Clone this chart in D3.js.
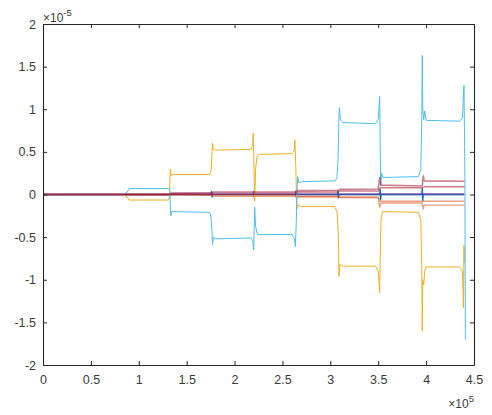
<!DOCTYPE html>
<html>
<head>
<meta charset="utf-8">
<script src="https://cdn.jsdelivr.net/npm/d3@7/dist/d3.min.js"></script>
<style>
  html, body { margin: 0; padding: 0; background: #ffffff; }
  svg { display: block; font-family: "Liberation Sans", Arial, Helvetica, sans-serif; }
</style>
</head>
<body>
<svg id="chart" width="492" height="415"></svg>
<script>
// ---- data (x in units of 1e5, y in units of 1e-5) ----
const xTicks = [0, 0.5, 1, 1.5, 2, 2.5, 3, 3.5, 4, 4.5];
const xTickLabels = ["0", "0.5", "1", "1.5", "2", "2.5", "3", "3.5", "4", "4.5"];
const yTicks = [-2, -1.5, -1, -0.5, 0, 0.5, 1, 1.5, 2];
const yTickLabels = ["-2", "-1.5", "-1", "-0.5", "0", "0.5", "1", "1.5", "2"];

const seriesBlue = [[0,0],[1.755,0],[1.76,0.035],[1.765,-0.03],[1.77,0],[2.195,0],[2.2,0.035],[2.205,-0.03],[2.21,0],
  [2.635,0],[2.64,0.04],[2.645,-0.035],[2.65,0],[3.075,0],[3.08,0.04],[3.085,-0.04],[3.09,0],
  [3.515,0],[3.52,0.06],[3.525,-0.06],[3.53,0],[3.955,0],[3.96,0.07],[3.965,-0.07],[3.97,0],[4.4,0]];

const seriesOrangeA = [[0,0],[1.32,0],[1.76,-0.01],[1.78,-0.02],[2.64,-0.02],[2.66,-0.03],[3.08,-0.03],[3.1,-0.035],
  [3.5,-0.04],[3.515,-0.15],[3.53,-0.1],[3.96,-0.1],[3.97,-0.17],[3.98,-0.125],[4.4,-0.125]];
const seriesOrangeB = [[0,0],[2.64,0],[2.66,-0.02],[3.08,-0.02],[3.1,-0.03],[3.5,-0.03],[3.52,-0.08],[3.96,-0.08],
  [3.98,-0.08],[4.4,-0.08]];

const seriesYellow = [[0,0],[0.84,0],[0.88,-0.03],[0.9,-0.065],[1.31,-0.065],[1.32,-0.02],[1.325,0.18],[1.33,0.3],
  [1.34,0.22],[1.36,0.235],[1.74,0.235],[1.755,0.28],[1.765,0.5],[1.77,0.6],[1.78,0.53],[1.8,0.52],[2.17,0.53],
  [2.19,0.58],[2.195,0.72],[2.205,0.2],[2.21,-0.08],[2.22,0.3],[2.235,0.45],[2.26,0.47],[2.6,0.48],[2.625,0.52],
  [2.63,0.64],[2.64,0.3],[2.65,-0.17],[2.665,-0.12],[2.69,-0.14],[3.04,-0.14],[3.07,-0.2],[3.085,-0.5],[3.09,-0.96],
  [3.1,-0.82],[3.13,-0.84],[3.47,-0.84],[3.5,-0.9],[3.515,-1.15],[3.525,-0.5],[3.53,-0.28],[3.545,-0.2],[3.92,-0.21],
  [3.945,-0.3],[3.955,-0.9],[3.96,-1.6],[3.965,-1.0],[3.975,-1.06],[3.985,-0.9],[4.0,-0.85],[4.35,-0.85],[4.38,-0.9],
  [4.39,-1.33],[4.395,-0.6],[4.4,-0.8]];

const seriesPurple = [[0,0],[1.32,0],[1.34,0.01],[2.64,0.01],[2.66,0.005],[4.4,0.005]];

const seriesCyan = [[0,0],[0.84,0],[0.88,0.03],[0.9,0.07],[1.31,0.07],[1.325,0.05],[1.33,-0.17],[1.335,-0.25],
  [1.345,-0.2],[1.74,-0.21],[1.755,-0.27],[1.765,-0.45],[1.77,-0.59],[1.78,-0.5],[1.8,-0.52],[2.17,-0.51],[2.19,-0.55],
  [2.2,-0.65],[2.205,-0.4],[2.21,-0.15],[2.22,-0.38],[2.24,-0.47],[2.6,-0.47],[2.625,-0.52],[2.635,-0.61],[2.645,-0.3],
  [2.655,0.12],[2.66,0.21],[2.67,0.14],[2.7,0.15],[3.05,0.16],[3.07,0.2],[3.08,0.4],[3.09,0.9],[3.095,1.02],[3.105,0.88],
  [3.13,0.845],[3.47,0.83],[3.5,0.88],[3.515,1.15],[3.52,0.7],[3.525,0.1],[3.535,0.25],[3.55,0.2],[3.92,0.21],
  [3.945,0.3],[3.955,0.9],[3.96,1.63],[3.965,1.0],[3.975,0.88],[3.985,0.98],[4.0,0.87],[4.35,0.86],[4.38,0.9],
  [4.395,1.28],[4.4,0.8],[4.405,0.2],[4.41,-1.7]];

const seriesRedA = [[0,0],[1.32,0],[1.34,0.015],[1.76,0.02],[1.78,0.03],[2.64,0.03],[2.66,0.045],[3.08,0.05],
  [3.1,0.06],[3.5,0.065],[3.515,0.2],[3.53,0.11],[3.96,0.1],[3.97,0.22],[3.98,0.16],[4.4,0.156]];
const seriesRedB = [[0,0],[2.64,0],[2.66,0.03],[3.08,0.03],[3.1,0.04],[3.5,0.04],[3.52,0.08],[3.96,0.08],
  [3.98,0.09],[4.4,0.09]];

const seriesList = [
  { data: seriesBlue,    color: "#0072BD", width: 1.4, opacity: 1 },
  { data: seriesOrangeB, color: "#D95319", width: 1.4, opacity: 0.55 },
  { data: seriesOrangeA, color: "#D95319", width: 1.4, opacity: 0.55 },
  { data: seriesYellow,  color: "#EDB120", width: 1.0, opacity: 1 },
  { data: seriesPurple,  color: "#7E2F8E", width: 2.2, opacity: 0.5 },
  { data: seriesCyan,    color: "#4DBEEE", width: 1.0, opacity: 1 },
  { data: seriesRedB,    color: "#A2142F", width: 1.5, opacity: 0.55 },
  { data: seriesRedA,    color: "#A2142F", width: 1.6, opacity: 0.55 }
];

// ---- layout ----
const svg = d3.select("#chart");
const mLeft = 43, mRight = 474, mTop = 24, mBottom = 365;
const x = d3.scaleLinear().domain([0, 4.5]).range([mLeft, mRight]);
const y = d3.scaleLinear().domain([-2, 2]).range([mBottom, mTop]);
const axisColor = "#262626";
const textColor = "#3a3a3a";
const fontSize = "12.5px";

svg.append("defs").append("clipPath").attr("id", "clip")
  .append("rect").attr("x", mLeft).attr("y", mTop).attr("width", mRight - mLeft).attr("height", mBottom - mTop);

const line = d3.line().x(d => x(d[0])).y(d => y(d[1]));
const plot = svg.append("g").attr("clip-path", "url(#clip)");
seriesList.forEach(s => {
  plot.append("path")
    .datum(s.data)
    .attr("d", line)
    .attr("fill", "none")
    .attr("stroke", s.color)
    .attr("stroke-width", s.width)
    .attr("stroke-opacity", s.opacity)
    .attr("stroke-linejoin", "round");
});

function styleAxis(g) {
  g.select(".domain").attr("stroke", axisColor).attr("stroke-width", 1.1);
  g.selectAll(".tick line").attr("stroke", axisColor);
  g.selectAll(".tick text").attr("fill", textColor).style("font-size", fontSize)
    .style("font-family", '"Liberation Sans", Arial, sans-serif');
}

svg.append("g").attr("transform", `translate(0,${mBottom})`)
  .call(d3.axisBottom(x).tickValues(xTicks).tickFormat((d, i) => xTickLabels[i])
    .tickSizeInner(-4).tickSizeOuter(0).tickPadding(10))
  .call(styleAxis);
svg.append("g").attr("transform", `translate(0,${mTop})`)
  .call(d3.axisTop(x).tickValues(xTicks).tickFormat("").tickSizeInner(-4).tickSizeOuter(0))
  .call(styleAxis);
svg.append("g").attr("transform", `translate(${mLeft},0)`)
  .call(d3.axisLeft(y).tickValues(yTicks).tickFormat((d, i) => yTickLabels[i])
    .tickSizeInner(-4).tickSizeOuter(0).tickPadding(7))
  .call(styleAxis);
svg.append("g").attr("transform", `translate(${mRight},0)`)
  .call(d3.axisRight(y).tickValues(yTicks).tickFormat("").tickSizeInner(-4).tickSizeOuter(0))
  .call(styleAxis);

// exponent labels
const yExp = svg.append("text").attr("x", mLeft).attr("y", 22)
  .attr("fill", textColor).style("font-size", "12px");
yExp.append("tspan").text("\u00d710");
yExp.append("tspan").attr("dy", -6).style("font-size", "9.5px").text("-5");

const xExp = svg.append("text").attr("x", mRight).attr("y", 408).attr("text-anchor", "end")
  .attr("fill", textColor).style("font-size", "12px");
xExp.append("tspan").text("\u00d710");
xExp.append("tspan").attr("dy", -6).style("font-size", "9.5px").text("5");
</script>
</body>
</html>
